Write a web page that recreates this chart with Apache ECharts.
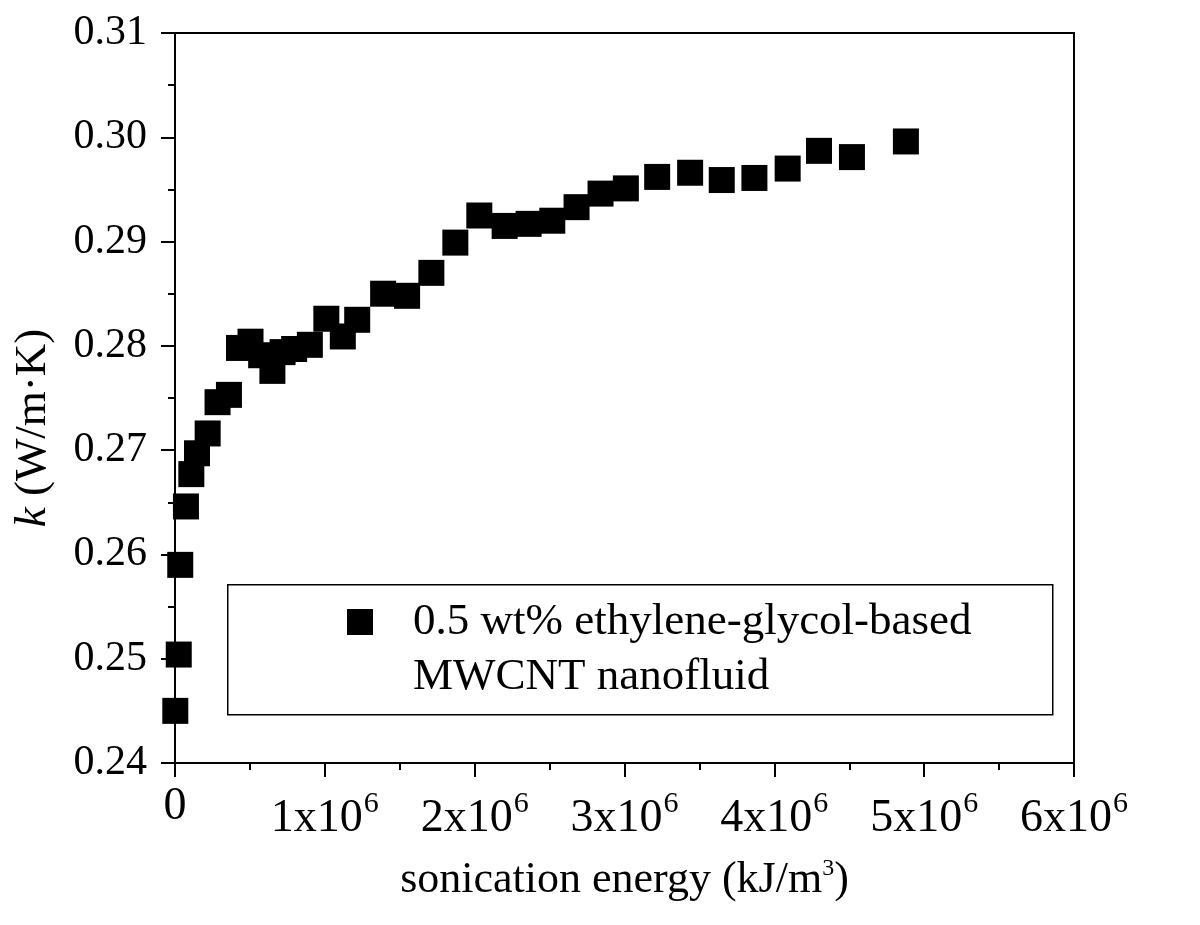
<!DOCTYPE html>
<html>
<head>
<meta charset="utf-8">
<script src="https://cdn.jsdelivr.net/npm/echarts@6/dist/echarts.min.js"></script>
<style>
html,body{margin:0;padding:0;background:#fff;}
#chart{width:1200px;height:925px;}
</style>
</head>
<body>
<div id="chart"></div>
<script>
// sonication energy (kJ/m^3)
var energy = [2000, 25000, 35000, 73000, 109000, 147000, 218000, 284000, 360000, 427000,
  504000, 575000, 650000, 718000, 795000, 900000, 1010000, 1120000, 1216000, 1389000,
  1549000, 1711000, 1871000, 2031000, 2200000, 2360000, 2518000, 2680000, 2840000, 3009000,
  3218000, 3438000, 3649000, 3867000, 4089000, 4298000, 4518000, 4878000];
// thermal conductivity k (W/m·K)
var conductivity = [0.2450, 0.2504, 0.2590, 0.2646, 0.2677, 0.2697, 0.2716, 0.2746, 0.2753, 0.2798,
  0.2804, 0.2791, 0.2776, 0.2794, 0.2797, 0.2801, 0.2826, 0.2809, 0.2825, 0.2850,
  0.2848, 0.2870, 0.2899, 0.2925, 0.2915, 0.2917, 0.2920, 0.2933, 0.2946, 0.2951,
  0.2962, 0.2966, 0.2959, 0.2961, 0.2970, 0.2987, 0.2981, 0.2996];
var seriesName = '0.5 wt% ethylene-glycol-based\nMWCNT nanofluid';
var xTitle = 'sonication energy (kJ/m';
var yTitleSymbol = 'k';
var yTitleUnit = ' (W/m·K)';

var FONT = "'Liberation Serif','Times New Roman',serif";
var points = energy.map(function (e, i) { return [e, conductivity[i]]; });

var chart = echarts.init(document.getElementById('chart'), null, {renderer: 'canvas'});
chart.setOption({
  backgroundColor: '#fff',
  animation: false,
  grid: {left: 175, right: 126, top: 33, bottom: 162, show: true, borderColor: '#000', borderWidth: 2, backgroundColor: 'transparent'},
  xAxis: {
    type: 'value', min: 0, max: 6000000, interval: 1000000,
    splitLine: {show: false},
    axisLine: {show: true, onZero: false, lineStyle: {color: '#000', width: 2}},
    axisTick: {show: true, length: 14, lineStyle: {color: '#000', width: 2}},
    minorTick: {show: true, splitNumber: 2, length: 7, lineStyle: {color: '#000', width: 2}},
    axisLabel: {
      margin: 26,
      color: '#000', fontFamily: FONT, fontSize: 46,
      formatter: function (v) {
        if (v === 0) return '{z|0}';
        return '{b|' + Math.round(v / 1e6) + 'x10}{s|6}';
      },
      rich: {
        z: {fontFamily: FONT, fontSize: 46, color: '#000', lineHeight: 36},
        b: {fontFamily: FONT, fontSize: 46, color: '#000', lineHeight: 53, verticalAlign: 'bottom'},
        s: {fontFamily: FONT, fontSize: 30, color: '#000', lineHeight: 30, verticalAlign: 'top', padding: [0, 0, 0, 1]}
      }
    },
    name: '{t|' + xTitle + '}{s|3}{t|)}',
    nameLocation: 'middle',
    nameGap: 94,
    nameTextStyle: {
      rich: {
        t: {fontFamily: FONT, fontSize: 44, color: '#000', lineHeight: 46},
        s: {fontFamily: FONT, fontSize: 24, color: '#000', lineHeight: 14, verticalAlign: 'top'}
      }
    }
  },
  yAxis: {
    type: 'value', min: 0.24, max: 0.31, interval: 0.01,
    splitLine: {show: false},
    axisLine: {show: true, onZero: false, lineStyle: {color: '#000', width: 2}},
    axisTick: {show: true, length: 14, lineStyle: {color: '#000', width: 2}},
    minorTick: {show: true, splitNumber: 2, length: 7, lineStyle: {color: '#000', width: 2}},
    axisLabel: {
      margin: 28, color: '#000', fontFamily: FONT, fontSize: 42,
      formatter: function (v) { return v.toFixed(2); }
    },
    name: '{i|' + yTitleSymbol + '}{n|' + yTitleUnit + '}',
    nameLocation: 'middle',
    nameGap: 119,
    nameTextStyle: {
      padding: [0, 60, 0, 0],
      rich: {
        i: {fontFamily: FONT, fontSize: 45, fontStyle: 'italic', color: '#000'},
        n: {fontFamily: FONT, fontSize: 45, color: '#000'}
      }
    }
  },
  legend: {
    show: true,
    left: 347, top: 539.5,
    padding: 0,
    itemWidth: 26, itemHeight: 26,
    selectedMode: false,
    icon: 'rect',
    data: [seriesName],
    formatter: function (n) { return '\n' + n; },
    textStyle: {
      fontFamily: FONT, fontSize: 45, color: '#000', lineHeight: 55,
      padding: [0, 0, 0, 35]
    }
  },
  graphic: [{
    type: 'rect', left: 227, top: 584, z: 0,
    shape: {width: 825, height: 130},
    style: {fill: 'rgba(0,0,0,0)', stroke: '#000', lineWidth: 1.5}
  }],
  series: [{
    name: seriesName,
    type: 'scatter',
    symbol: 'rect',
    symbolSize: 26,
    itemStyle: {color: '#000', opacity: 1},
    data: points,
    z: 3
  }]
});
</script>
</body>
</html>
